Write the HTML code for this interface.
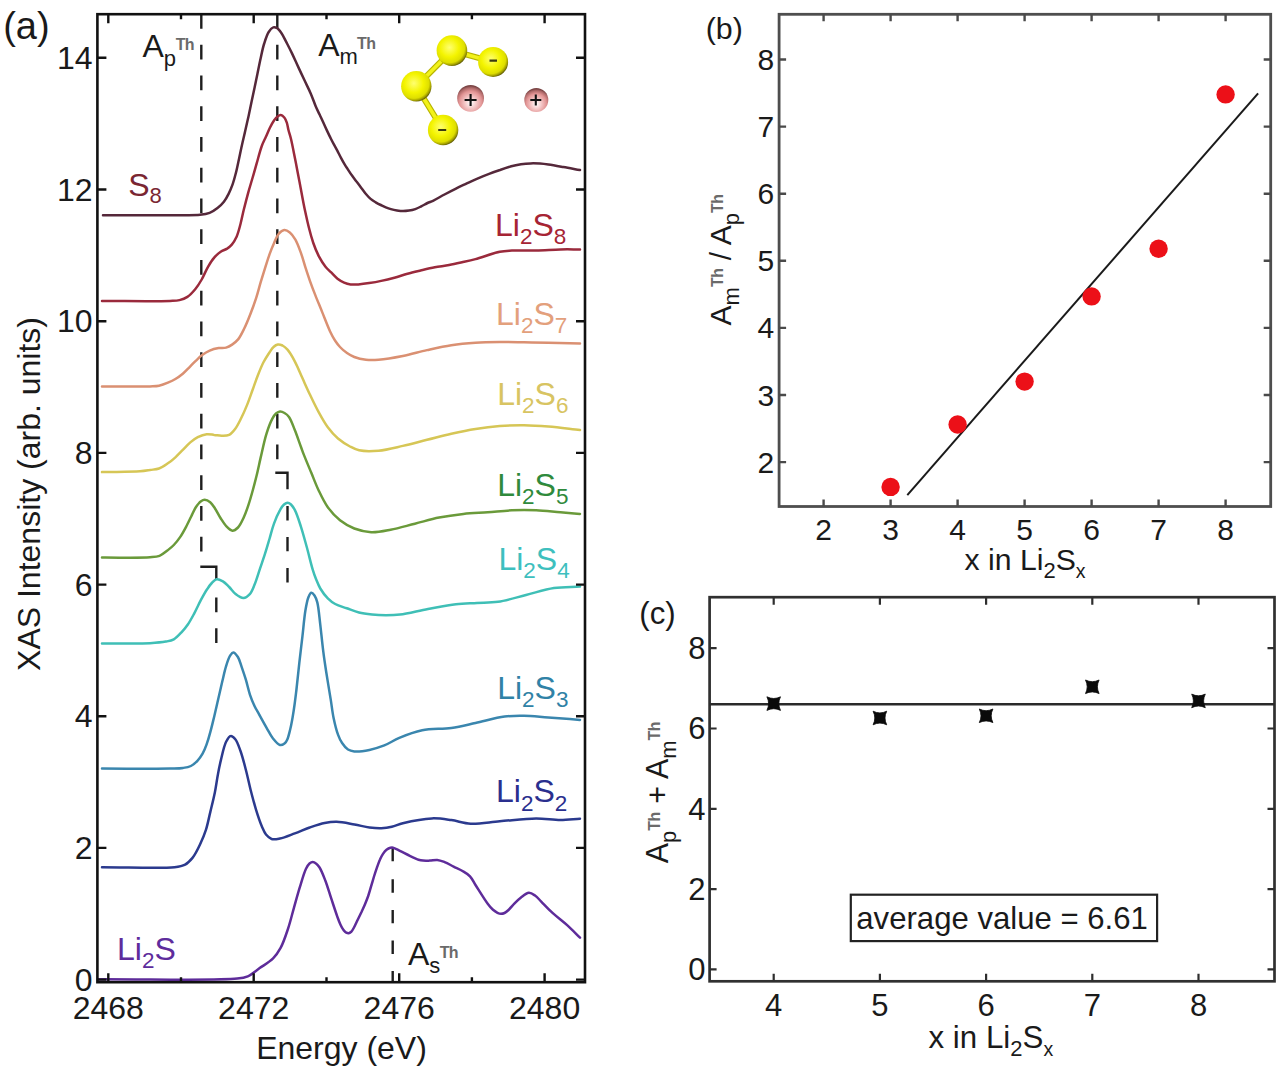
<!DOCTYPE html>
<html><head><meta charset="utf-8"><title>XAS figure</title>
<style>html,body{margin:0;padding:0;background:#fff;}body{width:1280px;height:1072px;overflow:hidden;font-family:"Liberation Sans",sans-serif;}svg{display:block;}</style>
</head><body>
<svg width="1280" height="1072" viewBox="0 0 1280 1072" font-family="Liberation Sans, sans-serif">
<rect width="1280" height="1072" fill="#fff"/>
<defs><radialGradient id="gy" cx="0.42" cy="0.4" r="0.62"><stop offset="0" stop-color="#ffff70"/><stop offset="0.5" stop-color="#f4f400"/><stop offset="0.8" stop-color="#dede00"/><stop offset="0.92" stop-color="#a09c00"/><stop offset="1" stop-color="#5e5a04"/></radialGradient><radialGradient id="gp" cx="0.5" cy="0.66" r="0.62"><stop offset="0" stop-color="#ffffff"/><stop offset="0.32" stop-color="#f6cccc"/><stop offset="0.68" stop-color="#e29494"/><stop offset="0.88" stop-color="#b06a6a"/><stop offset="1" stop-color="#7a4444"/></radialGradient><linearGradient id="gb" x1="0" y1="0" x2="1" y2="1"><stop offset="0" stop-color="#f8f860"/><stop offset="1" stop-color="#d8d800"/></linearGradient></defs>
<path d="M201.3,14 V552" stroke="#1e1e1e" stroke-width="2.4" fill="none" stroke-dasharray="14.8 15.95"/>
<path d="M200.3,566.8 H216.3 V580" stroke="#1e1e1e" stroke-width="2.4" fill="none" stroke-linejoin="miter"/>
<path d="M216.3,597.5 V612.3 M216.3,628.3 V643" stroke="#1e1e1e" stroke-width="2.4" fill="none"/>
<path d="M277.3,14 V459.5" stroke="#1e1e1e" stroke-width="2.4" fill="none" stroke-dasharray="14.8 15.95"/>
<path d="M275.3,472.8 H287.5 V489.3" stroke="#1e1e1e" stroke-width="2.4" fill="none"/>
<path d="M287.5,505.9 V520.5 M287.5,536.9 V551.3 M287.5,568.1 V582.6" stroke="#1e1e1e" stroke-width="2.4" fill="none"/>
<path d="M392.7,847.8 V861.3 M392.7,879.3 V892.7 M392.7,909.9 V923.3 M392.7,940.4 V953.9 M392.7,971 V981" stroke="#1e1e1e" stroke-width="2.4" fill="none"/>
<path d="M103.0,215.2 C128.7,215.2 162.6,215.4 180.0,215.2 C188.9,215.1 194.7,215.4 200.1,214.8 C203.9,214.4 206.7,214.0 209.6,212.9 C212.5,211.8 215.1,210.0 217.5,208.1 C219.9,206.3 222.1,204.1 223.9,201.8 C225.8,199.4 227.2,196.7 228.6,193.9 C230.1,190.9 231.4,187.7 232.6,184.4 C233.8,180.9 234.8,177.3 235.8,173.3 C237.0,168.7 238.0,163.4 239.1,158.5 C240.2,153.6 241.1,148.7 242.2,144.0 C243.2,139.4 244.3,135.1 245.3,130.5 C246.4,125.8 247.5,120.8 248.6,116.0 C249.6,111.2 250.6,106.3 251.6,101.5 C252.6,96.8 253.6,92.2 254.6,87.5 C255.6,82.8 256.5,78.2 257.5,73.5 C258.5,68.6 259.5,63.5 260.6,58.5 C261.7,53.5 262.7,48.1 264.2,43.5 C265.5,39.4 266.9,34.8 268.7,32.0 C270.0,29.9 271.7,27.9 273.2,27.4 C274.3,27.0 275.6,27.3 276.7,27.9 C278.3,28.7 279.8,30.8 281.2,32.8 C283.1,35.4 284.8,39.3 286.6,42.7 C288.4,46.2 290.2,49.6 292.0,53.4 C294.0,57.6 296.1,62.4 298.2,66.9 C300.3,71.4 302.4,75.8 304.5,80.3 C306.6,84.8 308.9,89.2 310.8,93.7 C312.7,98.1 314.3,103.0 315.9,106.8 C317.2,109.8 318.4,112.0 319.6,114.6 C320.8,117.2 322.1,119.9 323.3,122.6 C324.5,125.3 325.7,127.9 327.0,130.6 C328.2,133.2 329.6,136.0 330.8,138.5 C331.9,140.7 332.9,142.6 334.0,144.6 C335.1,146.6 336.2,148.5 337.3,150.6 C338.5,152.9 339.7,155.4 341.0,157.8 C342.2,160.1 343.5,162.5 344.8,164.6 C346.0,166.6 347.3,168.4 348.5,170.3 C349.7,172.2 350.9,174.0 352.2,175.8 C353.6,177.7 355.1,179.6 356.5,181.5 C357.9,183.3 359.2,185.1 360.6,187.0 C362.2,189.1 363.8,191.5 365.5,193.5 C367.1,195.4 368.8,197.4 370.6,198.9 C372.2,200.3 374.0,201.3 375.7,202.3 C377.4,203.3 379.1,204.2 380.8,205.0 C382.5,205.8 384.1,206.6 385.8,207.3 C387.5,208.0 389.1,208.6 390.9,209.1 C392.8,209.7 395.0,210.2 397.0,210.5 C399.0,210.8 401.1,211.1 403.1,211.1 C405.1,211.1 407.0,210.9 409.0,210.6 C411.1,210.3 413.3,209.8 415.3,209.1 C417.3,208.4 419.1,207.5 421.0,206.5 C423.1,205.5 425.4,204.0 427.5,203.0 C429.4,202.1 430.9,201.8 433.0,200.8 C436.2,199.3 440.7,196.5 444.5,194.5 C448.2,192.5 451.8,190.6 455.5,188.8 C459.2,186.9 463.0,185.2 466.8,183.4 C470.5,181.7 474.3,179.9 478.0,178.3 C481.7,176.7 485.4,175.2 489.1,173.8 C492.7,172.4 496.3,171.2 500.0,170.0 C503.7,168.7 507.7,167.3 511.3,166.3 C514.6,165.4 517.8,164.8 521.0,164.3 C524.2,163.8 527.4,163.5 530.6,163.4 C533.7,163.3 537.0,163.4 540.0,163.6 C542.9,163.8 545.2,164.1 548.4,164.6 C552.7,165.2 558.2,166.2 563.3,167.1 C568.7,168.0 574.4,169.1 580.0,170.1" stroke="#55283a" stroke-width="2.5" fill="none" stroke-linejoin="round" stroke-linecap="round"/>
<path d="M102.0,301.0 C124.7,301.0 157.7,301.4 170.0,300.9 C174.6,300.7 176.5,300.8 179.5,300.1 C182.3,299.4 184.9,298.5 187.4,296.9 C190.3,295.0 193.0,291.9 195.4,289.0 C197.8,286.1 199.7,283.0 201.7,279.5 C203.9,275.6 205.8,270.7 208.0,266.8 C210.0,263.3 212.1,259.9 214.4,257.3 C216.4,255.0 218.5,253.2 220.7,251.7 C222.7,250.3 225.2,249.8 227.1,248.6 C228.9,247.4 230.3,246.3 231.8,244.6 C233.6,242.5 235.2,239.7 236.6,236.7 C238.2,233.1 239.3,228.4 240.5,224.0 C241.7,219.5 242.5,214.9 243.7,210.0 C245.1,204.5 246.8,198.0 248.3,192.4 C249.7,187.3 251.1,182.8 252.5,178.0 C253.9,173.2 255.2,168.7 256.6,163.7 C258.2,158.2 259.9,151.1 261.7,146.2 C263.0,142.6 264.4,140.1 265.8,137.0 C267.2,133.9 268.5,130.6 269.9,127.7 C271.2,125.1 272.6,122.5 274.0,120.5 C275.2,118.9 276.3,117.4 277.6,116.4 C278.6,115.6 279.7,114.8 280.7,114.9 C281.9,115.0 283.3,116.3 284.3,117.5 C285.4,118.8 286.1,120.7 286.8,122.6 C287.6,124.8 287.8,127.3 288.4,129.8 C289.1,132.7 290.2,135.6 291.0,139.0 C292.0,143.2 293.0,148.3 294.0,153.4 C295.2,159.2 296.5,165.9 297.6,171.9 C298.7,177.5 299.7,182.8 300.7,188.3 C301.7,193.8 302.8,199.7 303.8,204.7 C304.6,208.8 305.4,212.2 306.2,216.0 C307.0,219.8 307.8,223.2 308.8,227.3 C310.0,232.1 311.6,238.0 313.3,243.0 C314.9,247.7 316.8,252.3 318.9,256.4 C320.9,260.2 323.3,263.9 325.5,266.7 C327.3,268.9 329.0,270.3 330.9,272.2 C333.0,274.3 335.2,276.9 337.5,278.7 C339.6,280.3 341.8,281.6 344.1,282.6 C346.2,283.5 348.3,284.1 350.6,284.4 C353.0,284.7 355.5,284.6 358.3,284.4 C361.6,284.2 365.5,283.7 369.2,283.1 C373.1,282.5 377.1,281.8 381.2,280.9 C385.5,280.0 390.0,278.9 394.4,277.7 C398.8,276.5 403.1,275.0 407.5,273.8 C411.9,272.6 416.1,271.6 420.6,270.5 C425.2,269.4 430.0,268.2 434.8,267.3 C439.5,266.4 444.5,266.0 449.1,265.1 C453.5,264.3 457.7,263.3 462.0,262.3 C466.5,261.3 470.4,260.5 475.5,259.1 C482.4,257.2 493.0,253.1 499.8,251.8 C504.5,250.9 507.2,250.9 511.9,250.6 C518.6,250.2 528.1,250.6 536.2,250.4 C544.3,250.2 552.8,249.6 560.4,249.4 C567.3,249.3 573.5,249.4 580.0,249.4" stroke="#9a2a3c" stroke-width="2.5" fill="none" stroke-linejoin="round" stroke-linecap="round"/>
<path d="M102.0,386.6 C118.0,386.5 140.3,386.8 150.0,386.4 C154.2,386.2 156.0,386.3 159.0,385.7 C162.0,385.1 165.1,383.9 167.9,382.7 C170.5,381.6 173.0,380.5 175.4,379.0 C177.9,377.5 180.4,375.7 182.8,373.7 C185.4,371.5 187.9,368.6 190.3,366.3 C192.4,364.2 194.3,362.2 196.3,360.3 C198.2,358.5 200.0,356.7 202.2,355.1 C204.5,353.4 207.0,351.8 209.7,350.6 C212.5,349.4 215.8,348.6 218.7,348.1 C221.3,347.7 223.8,348.2 226.1,347.6 C228.3,347.0 230.2,345.9 232.1,344.6 C234.2,343.2 236.3,341.6 238.1,339.4 C240.3,336.7 242.1,332.9 244.0,329.0 C246.3,324.4 248.6,318.7 250.6,313.5 C252.6,308.3 254.5,303.1 256.2,297.9 C257.9,292.7 259.2,287.3 260.7,282.2 C262.2,277.2 263.7,272.4 265.2,267.6 C266.7,263.0 268.1,258.4 269.6,254.2 C271.0,250.3 272.5,246.5 274.1,243.0 C275.5,239.8 276.7,236.2 278.6,234.0 C280.2,232.2 282.3,230.3 284.2,230.1 C286.0,229.9 288.1,231.1 289.8,232.4 C291.9,234.0 293.7,236.7 295.4,239.6 C297.5,243.3 299.3,248.5 301.0,253.1 C302.7,257.8 304.0,262.9 305.5,267.6 C307.0,272.2 308.4,276.5 310.0,281.1 C311.7,285.9 313.5,290.6 315.5,295.6 C317.6,301.0 320.0,306.6 322.3,312.4 C324.8,318.6 327.7,326.4 330.1,331.5 C331.8,335.1 333.2,337.8 335.0,340.5 C336.6,342.9 338.1,345.0 340.0,347.0 C342.0,349.2 344.5,351.3 347.0,353.0 C349.3,354.6 351.5,355.9 354.3,357.0 C357.7,358.3 362.0,359.3 366.0,359.8 C370.1,360.3 373.7,360.2 378.5,359.8 C385.3,359.3 394.7,357.7 402.8,356.1 C410.9,354.5 418.9,351.9 427.0,350.1 C435.1,348.3 443.2,346.4 451.3,345.2 C459.3,344.0 467.4,343.3 475.5,342.8 C483.6,342.3 491.7,342.2 499.8,342.1 C507.9,342.0 515.9,342.2 524.0,342.3 C532.1,342.4 539.7,342.6 548.3,342.8 C558.2,343.0 569.4,343.3 580.0,343.5" stroke="#da9072" stroke-width="2.5" fill="none" stroke-linejoin="round" stroke-linecap="round"/>
<path d="M102.0,472.1 C114.7,471.8 131.4,471.9 140.0,471.3 C144.4,471.0 146.8,470.5 150.0,470.0 C153.1,469.5 156.1,469.5 159.0,468.5 C162.1,467.4 165.1,465.2 167.9,463.3 C170.6,461.5 173.0,459.5 175.4,457.3 C177.9,455.0 180.3,452.4 182.8,449.9 C185.3,447.4 187.7,444.6 190.3,442.4 C192.7,440.4 195.1,438.6 197.8,437.2 C200.5,435.8 203.8,434.5 206.7,434.2 C209.3,433.9 211.7,434.6 214.2,434.9 C216.7,435.1 219.1,435.7 221.6,435.7 C224.1,435.7 226.9,435.9 229.1,434.9 C231.4,433.8 233.3,431.4 235.1,429.0 C237.3,426.1 239.1,422.3 241.0,418.5 C243.1,414.3 245.1,409.8 247.0,405.1 C249.1,399.9 251.1,393.8 253.0,388.7 C254.6,384.2 255.9,380.3 257.6,376.0 C259.4,371.4 261.4,366.2 263.6,362.0 C265.5,358.4 267.8,354.9 269.6,352.2 C271.0,350.2 272.0,348.3 273.5,347.0 C274.8,345.8 276.3,344.7 277.8,344.5 C279.3,344.3 281.0,344.8 282.5,345.5 C284.3,346.4 285.8,347.8 287.5,349.7 C290.0,352.5 292.6,357.2 294.9,361.6 C297.6,366.6 299.9,372.6 302.4,378.1 C304.9,383.6 307.2,388.9 309.9,394.5 C312.7,400.4 315.7,406.8 318.8,412.4 C321.7,417.7 324.5,422.8 327.8,427.3 C330.9,431.5 334.2,435.3 338.0,438.5 C341.7,441.6 346.2,444.5 350.0,446.5 C353.2,448.2 355.4,449.5 359.1,450.3 C364.3,451.4 371.7,451.3 378.5,450.7 C386.2,450.0 394.7,447.7 402.8,445.9 C410.9,444.1 418.9,441.8 427.0,439.8 C435.1,437.8 443.2,435.5 451.3,433.7 C459.4,431.9 467.4,430.2 475.5,428.9 C483.6,427.6 491.7,426.6 499.8,426.0 C507.9,425.4 515.9,425.1 524.0,425.2 C532.1,425.3 539.7,425.8 548.3,426.5 C558.2,427.3 569.4,428.9 580.0,430.1" stroke="#d6c656" stroke-width="2.5" fill="none" stroke-linejoin="round" stroke-linecap="round"/>
<path d="M102.0,557.6 C118.0,557.5 140.2,558.1 150.0,557.3 C154.4,556.9 156.6,556.9 159.5,555.8 C162.4,554.7 165.0,552.4 167.4,550.5 C169.7,548.7 171.8,547.1 173.8,545.0 C176.0,542.7 178.1,540.0 180.1,537.1 C182.4,533.8 184.6,529.6 186.5,526.0 C188.2,522.7 189.6,519.7 191.2,516.5 C192.8,513.3 194.2,509.7 196.0,507.0 C197.5,504.8 199.0,502.6 200.7,501.4 C202.0,500.5 203.3,499.8 204.7,499.8 C206.4,499.8 208.6,500.9 210.2,502.2 C212.1,503.7 213.4,506.1 215.0,508.5 C216.9,511.3 218.6,515.0 220.5,518.0 C222.3,520.8 224.0,523.8 226.1,526.0 C228.0,528.0 230.3,530.6 232.4,530.7 C234.3,530.8 236.3,529.2 238.0,527.5 C240.2,525.3 241.9,521.5 243.5,518.0 C245.3,514.2 246.8,509.9 248.3,505.4 C250.0,500.4 251.6,494.6 253.0,489.5 C254.3,484.8 255.3,480.8 256.5,476.0 C257.9,470.4 259.1,464.4 260.6,457.9 C262.4,450.3 264.3,440.4 266.6,433.3 C268.4,427.6 270.6,421.9 272.5,418.4 C273.7,416.2 274.6,414.7 276.0,413.5 C277.2,412.5 278.6,411.7 280.0,411.6 C281.4,411.5 283.1,412.2 284.5,413.0 C286.1,413.9 287.6,415.0 289.0,416.9 C291.2,419.9 293.0,425.6 294.9,430.3 C297.0,435.5 299.2,442.2 300.9,446.7 C302.1,449.9 302.6,451.7 303.9,454.9 C305.8,459.7 308.8,466.8 311.3,472.8 C313.8,478.8 316.0,484.9 318.8,490.7 C321.5,496.4 324.2,502.2 327.8,507.2 C331.3,512.1 335.5,516.7 340.0,520.3 C344.3,523.7 349.2,526.5 354.3,528.5 C359.6,530.5 365.3,531.9 371.2,532.2 C377.4,532.5 383.8,531.0 390.6,529.7 C398.3,528.3 406.8,525.7 414.9,523.7 C423.0,521.7 431.0,519.2 439.1,517.6 C447.2,516.0 455.3,514.9 463.4,514.0 C471.5,513.1 479.6,512.9 487.7,512.3 C495.8,511.7 503.8,510.6 511.9,510.3 C520.0,510.0 528.1,510.0 536.2,510.3 C544.3,510.6 552.8,511.7 560.4,512.3 C567.3,512.9 573.5,513.4 580.0,514.0" stroke="#6a9a3a" stroke-width="2.5" fill="none" stroke-linejoin="round" stroke-linecap="round"/>
<path d="M102.0,643.4 C118.0,643.3 138.3,643.8 150.0,643.2 C156.7,642.8 161.5,642.4 165.8,641.6 C168.9,641.0 171.3,640.7 173.8,639.3 C176.6,637.7 179.3,634.7 181.7,632.1 C184.0,629.6 186.0,627.1 188.0,624.2 C190.3,620.9 192.3,617.0 194.4,613.1 C196.6,609.0 198.5,604.5 200.7,600.4 C202.8,596.5 205.0,592.4 207.1,589.3 C208.7,586.8 210.1,584.7 211.8,583.0 C213.3,581.5 214.8,579.6 216.6,579.3 C218.5,579.0 220.9,580.3 222.9,581.4 C225.1,582.7 227.1,585.0 229.2,587.0 C231.4,589.2 233.2,592.2 235.6,594.1 C237.9,595.9 241.0,598.2 243.5,598.1 C245.8,598.0 248.0,596.0 249.8,594.1 C251.9,591.8 253.1,588.2 254.6,584.6 C256.5,580.0 258.2,574.0 260.0,568.7 C261.7,563.6 263.5,558.5 265.1,553.4 C266.7,548.4 268.1,543.5 269.6,538.5 C271.1,533.5 272.2,528.4 274.0,523.6 C275.7,518.9 278.0,513.6 280.0,510.1 C281.3,507.7 282.5,505.8 284.0,504.5 C285.1,503.6 286.3,502.7 287.5,502.7 C288.7,502.7 289.9,503.5 291.0,504.5 C292.4,505.8 293.6,507.6 294.9,510.1 C297.0,514.1 299.0,520.7 300.9,526.6 C303.0,533.1 304.9,540.4 306.9,547.5 C308.9,554.8 311.0,564.1 312.8,569.9 C313.9,573.6 314.8,576.0 316.0,579.0 C317.3,582.2 318.5,585.4 320.3,588.5 C322.3,591.9 325.1,595.6 327.8,598.3 C330.1,600.6 332.3,602.4 335.2,604.0 C338.5,605.8 342.9,606.9 346.8,608.3 C350.8,609.7 354.8,611.5 359.0,612.5 C363.2,613.6 367.6,614.1 372.0,614.6 C376.6,615.1 381.3,615.3 386.0,615.3 C390.7,615.3 394.6,615.3 400.0,614.6 C407.8,613.6 418.7,610.7 428.0,609.0 C437.3,607.3 447.3,605.2 456.0,604.2 C463.5,603.3 470.0,603.4 477.0,603.0 C484.0,602.6 490.6,602.9 498.0,601.8 C506.7,600.5 516.7,597.3 526.0,595.0 C535.3,592.7 544.8,589.4 554.0,588.0 C562.8,586.7 571.3,587.1 580.0,586.6" stroke="#3fbfb6" stroke-width="2.5" fill="none" stroke-linejoin="round" stroke-linecap="round"/>
<path d="M102.0,768.6 C124.7,768.6 156.2,769.0 170.0,768.6 C176.1,768.4 179.3,768.5 183.1,767.9 C186.1,767.5 188.5,767.2 190.9,766.0 C193.3,764.8 195.5,762.8 197.4,760.8 C199.4,758.7 201.1,756.2 202.6,753.6 C204.2,750.8 205.4,747.8 206.6,744.4 C208.0,740.5 209.3,736.0 210.5,731.4 C211.9,726.4 213.1,721.0 214.4,715.7 C215.7,710.2 217.0,704.4 218.3,698.7 C219.6,693.1 220.9,687.3 222.2,681.8 C223.5,676.5 224.6,670.8 226.1,666.1 C227.3,662.2 228.6,658.1 230.1,655.7 C231.1,654.2 232.1,652.4 233.3,652.4 C234.7,652.4 236.6,655.0 237.9,657.0 C239.6,659.6 240.5,663.8 241.8,667.4 C243.1,671.2 244.4,675.0 245.7,679.2 C247.2,684.0 248.4,690.1 250.0,694.8 C251.4,698.9 252.9,702.6 254.5,706.0 C255.9,709.0 257.4,711.2 259.1,714.3 C261.3,718.3 264.2,723.6 266.6,727.8 C268.8,731.6 270.6,735.5 273.0,738.5 C275.1,741.1 277.7,744.5 279.9,745.0 C281.5,745.4 283.3,744.4 284.5,743.5 C285.7,742.6 286.5,741.2 287.3,739.4 C288.5,736.8 289.4,732.5 290.3,729.0 C291.2,725.4 291.8,721.8 292.5,718.0 C293.2,713.9 293.9,709.5 294.5,705.0 C295.2,700.2 295.7,695.8 296.4,690.0 C297.3,682.1 298.4,671.2 299.4,662.1 C300.4,653.4 301.4,645.2 302.4,636.7 C303.4,628.0 304.2,617.8 305.4,610.5 C306.3,605.2 307.2,600.2 308.5,597.0 C309.3,595.1 310.2,592.8 311.3,592.7 C312.3,592.6 313.6,594.2 314.5,595.5 C315.7,597.2 316.5,599.4 317.3,602.4 C318.7,607.7 319.3,617.0 320.3,624.8 C321.3,633.3 322.2,643.2 323.3,651.6 C324.2,659.0 325.2,665.1 326.3,672.5 C327.6,680.9 329.4,691.3 330.7,699.4 C331.8,706.2 332.3,712.0 333.6,718.0 C334.8,723.8 336.4,730.4 338.1,734.9 C339.3,738.2 340.4,740.6 342.1,743.0 C343.7,745.4 345.8,748.1 348.0,749.5 C349.9,750.7 351.7,751.1 354.3,751.4 C358.2,751.8 364.4,750.9 369.4,749.9 C374.4,748.9 379.4,747.3 384.3,745.4 C389.4,743.4 393.7,740.2 399.3,737.9 C406.0,735.1 414.0,732.0 422.2,730.3 C431.2,728.5 442.1,729.2 451.3,727.9 C459.8,726.7 467.1,724.8 475.5,723.0 C484.8,721.0 495.8,717.6 504.6,716.5 C511.7,715.6 517.2,715.7 524.0,715.8 C531.6,715.9 539.7,716.9 548.3,717.5 C558.2,718.2 569.4,719.1 580.0,719.9" stroke="#3a86ae" stroke-width="2.5" fill="none" stroke-linejoin="round" stroke-linecap="round"/>
<path d="M102.0,867.2 C126.2,867.2 161.3,868.8 174.6,867.2 C179.7,866.6 182.1,866.2 185.1,864.6 C188.0,863.1 190.2,860.7 192.5,857.9 C195.3,854.4 197.8,849.2 200.0,844.5 C202.3,839.7 204.3,834.9 206.0,829.6 C207.8,823.9 208.9,817.7 210.4,811.6 C211.9,805.3 213.6,798.6 214.9,792.2 C216.1,786.1 216.9,779.6 218.0,774.0 C218.9,769.0 219.7,765.0 220.9,760.1 C222.3,754.4 223.9,746.1 226.1,741.8 C227.5,739.1 229.0,736.2 230.7,736.0 C232.1,735.8 233.9,737.5 235.3,739.2 C237.4,741.7 238.9,746.6 240.5,751.0 C242.4,756.4 244.1,762.9 245.7,769.2 C247.5,775.9 249.0,783.4 250.7,790.2 C252.4,796.8 254.1,803.4 256.0,809.6 C257.8,815.5 260.0,822.0 261.9,826.5 C263.3,829.7 264.3,832.4 266.0,834.5 C267.6,836.4 269.4,838.3 271.6,839.0 C274.0,839.8 276.8,839.1 279.9,838.5 C284.2,837.7 289.9,835.2 294.8,833.4 C299.8,831.6 304.7,829.2 309.7,827.5 C314.6,825.8 319.9,823.9 324.6,823.0 C328.8,822.2 332.2,821.7 336.6,821.8 C342.0,821.9 348.8,823.5 354.5,824.5 C359.7,825.4 364.7,826.9 369.4,827.5 C373.6,828.0 377.5,828.4 381.3,828.2 C384.9,828.0 388.3,827.5 391.8,826.7 C395.5,825.9 398.2,824.3 402.8,823.2 C410.1,821.4 423.2,818.7 431.9,818.4 C439.0,818.1 444.9,819.2 451.3,820.1 C457.8,821.0 463.6,823.3 470.7,823.7 C479.4,824.1 489.6,822.1 499.8,821.3 C511.3,820.4 525.3,818.5 536.2,818.4 C545.1,818.4 552.8,820.1 560.4,820.1 C567.3,820.1 573.5,819.2 580.0,818.8" stroke="#2b3a8e" stroke-width="2.5" fill="none" stroke-linejoin="round" stroke-linecap="round"/>
<path d="M98.0,979.2 C144.4,979.0 217.3,980.8 237.3,978.6 C242.8,978.0 244.3,977.8 247.8,976.3 C251.8,974.6 255.6,971.0 259.7,968.1 C264.1,965.0 269.5,962.0 273.1,958.4 C276.3,955.2 278.3,952.1 280.6,947.9 C283.5,942.6 285.9,935.1 288.1,928.5 C290.4,921.7 292.0,914.6 294.0,907.6 C296.0,900.6 297.9,893.4 300.0,886.7 C301.9,880.5 304.0,872.9 306.0,868.8 C307.2,866.4 308.2,864.6 309.5,863.5 C310.5,862.7 311.6,862.0 312.7,862.0 C313.8,862.0 315.0,862.7 316.0,863.5 C317.2,864.4 318.2,865.5 319.4,867.3 C321.4,870.3 323.5,875.9 325.4,880.7 C327.5,886.2 329.3,892.7 331.3,898.7 C333.3,904.7 335.6,911.8 337.3,916.6 C338.5,919.9 339.4,922.4 340.5,924.8 C341.4,926.8 342.4,928.6 343.5,930.0 C344.4,931.1 345.2,932.1 346.2,932.6 C347.0,933.0 347.9,933.3 348.7,933.2 C349.6,933.1 350.4,932.5 351.2,931.8 C352.2,930.8 353.1,929.2 354.0,927.5 C355.2,925.4 356.4,922.5 357.6,920.0 C358.9,917.4 360.2,914.7 361.5,912.0 C362.7,909.3 364.0,906.7 365.1,904.0 C366.2,901.3 367.2,898.8 368.2,896.0 C369.2,893.0 370.1,889.9 371.0,886.7 C372.0,883.4 373.0,879.8 374.0,876.5 C375.0,873.3 376.0,870.2 377.0,867.3 C378.0,864.6 378.9,861.9 380.0,859.5 C380.9,857.4 381.9,855.6 383.0,853.9 C384.0,852.4 385.2,850.8 386.5,849.8 C387.7,848.9 389.2,848.1 390.4,847.8 C391.3,847.6 392.0,847.5 393.0,847.7 C394.8,848.1 397.4,849.7 399.9,850.9 C403.0,852.4 406.8,854.5 410.3,856.1 C413.7,857.6 417.3,859.6 420.7,860.3 C423.8,860.9 426.8,860.7 429.7,860.6 C432.3,860.5 434.7,859.7 437.2,859.9 C439.7,860.1 442.1,861.1 444.6,862.1 C447.5,863.2 450.6,865.1 453.6,866.6 C456.6,868.1 459.7,869.3 462.5,871.0 C465.2,872.6 467.9,874.1 470.0,876.3 C472.3,878.7 473.3,881.6 475.5,885.0 C478.8,890.1 484.3,899.2 487.7,903.7 C489.7,906.4 491.2,908.2 493.0,909.8 C494.5,911.1 496.0,912.1 497.5,912.8 C498.7,913.4 499.8,913.8 501.0,913.8 C502.2,913.8 503.4,913.5 504.5,913.0 C505.9,912.4 507.1,911.3 508.5,910.0 C510.3,908.3 512.3,905.8 514.3,903.7 C516.4,901.6 518.6,899.3 521.0,897.5 C523.4,895.7 526.4,893.0 528.9,892.8 C531.0,892.7 533.1,894.2 535.0,895.5 C537.1,896.9 538.7,899.0 541.0,901.3 C544.3,904.6 548.8,909.5 553.1,913.4 C557.7,917.6 563.1,921.4 567.7,925.6 C572.1,929.6 575.9,933.7 580.0,937.7" stroke="#5e2c9a" stroke-width="2.5" fill="none" stroke-linejoin="round" stroke-linecap="round"/>
<rect x="97.4" y="14.2" width="487.6" height="968.0" fill="none" stroke="#111" stroke-width="2.6"/>
<path d="M108.3,982.2 v-9.0 M108.3,14.2 v9.0 M181.0,982.2 v-5.0 M181.0,14.2 v5.0 M253.7,982.2 v-9.0 M253.7,14.2 v9.0 M326.5,982.2 v-5.0 M326.5,14.2 v5.0 M399.2,982.2 v-9.0 M399.2,14.2 v9.0 M471.9,982.2 v-5.0 M471.9,14.2 v5.0 M544.6,982.2 v-9.0 M544.6,14.2 v9.0 M97.4,979.6 h9 M585.0,979.6 h-9 M97.4,847.9 h9 M585.0,847.9 h-9 M97.4,716.2 h9 M585.0,716.2 h-9 M97.4,584.6 h9 M585.0,584.6 h-9 M97.4,452.9 h9 M585.0,452.9 h-9 M97.4,321.2 h9 M585.0,321.2 h-9 M97.4,189.5 h9 M585.0,189.5 h-9 M97.4,57.8 h9 M585.0,57.8 h-9" stroke="#111" stroke-width="2.4"/>
<text x="92.6" y="990.8" font-size="32" text-anchor="end" fill="#1a1a1a">0</text>
<text x="92.6" y="859.1" font-size="32" text-anchor="end" fill="#1a1a1a">2</text>
<text x="92.6" y="727.4" font-size="32" text-anchor="end" fill="#1a1a1a">4</text>
<text x="92.6" y="595.8" font-size="32" text-anchor="end" fill="#1a1a1a">6</text>
<text x="92.6" y="464.1" font-size="32" text-anchor="end" fill="#1a1a1a">8</text>
<text x="92.6" y="332.4" font-size="32" text-anchor="end" fill="#1a1a1a">10</text>
<text x="92.6" y="200.7" font-size="32" text-anchor="end" fill="#1a1a1a">12</text>
<text x="92.6" y="69.0" font-size="32" text-anchor="end" fill="#1a1a1a">14</text>
<text x="108.3" y="1018.9" font-size="32" text-anchor="middle" fill="#1a1a1a">2468</text>
<text x="253.7" y="1018.9" font-size="32" text-anchor="middle" fill="#1a1a1a">2472</text>
<text x="399.2" y="1018.9" font-size="32" text-anchor="middle" fill="#1a1a1a">2476</text>
<text x="544.6" y="1018.9" font-size="32" text-anchor="middle" fill="#1a1a1a">2480</text>
<text x="341.5" y="1058.8" font-size="32" text-anchor="middle" fill="#1a1a1a">Energy (eV)</text>
<text transform="translate(39.6,494) rotate(-90)" font-size="32" text-anchor="middle" fill="#1a1a1a">XAS Intensity (arb. units)</text>
<text x="3.2" y="39.1" font-size="38" fill="#1a1a1a">(a)</text>
<text x="128.2" y="196.3" font-size="32" fill="#7a2632">S<tspan font-size="22" dy="6.8">8</tspan></text>
<text x="495.0" y="235.6" font-size="32" fill="#a62434">Li<tspan font-size="22.5" dy="8.2">2</tspan><tspan dy="-8.2">S</tspan><tspan font-size="22.5" dy="8.2">8</tspan></text>
<text x="496.0" y="324.6" font-size="32" fill="#e3a07c">Li<tspan font-size="22.5" dy="8.2">2</tspan><tspan dy="-8.2">S</tspan><tspan font-size="22.5" dy="8.2">7</tspan></text>
<text x="497.2" y="404.6" font-size="32" fill="#d8c462">Li<tspan font-size="22.5" dy="8.2">2</tspan><tspan dy="-8.2">S</tspan><tspan font-size="22.5" dy="8.2">6</tspan></text>
<text x="497.2" y="495.8" font-size="32" fill="#2f8a3c">Li<tspan font-size="22.5" dy="8.2">2</tspan><tspan dy="-8.2">S</tspan><tspan font-size="22.5" dy="8.2">5</tspan></text>
<text x="498.4" y="569.8" font-size="32" fill="#3ebfbe">Li<tspan font-size="22.5" dy="8.2">2</tspan><tspan dy="-8.2">S</tspan><tspan font-size="22.5" dy="8.2">4</tspan></text>
<text x="497.2" y="698.6" font-size="32" fill="#3082a6">Li<tspan font-size="22.5" dy="8.2">2</tspan><tspan dy="-8.2">S</tspan><tspan font-size="22.5" dy="8.2">3</tspan></text>
<text x="496.0" y="802.4" font-size="32" fill="#2a2f8e">Li<tspan font-size="22.5" dy="8.2">2</tspan><tspan dy="-8.2">S</tspan><tspan font-size="22.5" dy="8.2">2</tspan></text>
<text x="117.0" y="960.0" font-size="32" fill="#5e2c9c">Li<tspan font-size="22.5" dy="8.2">2</tspan><tspan dy="-8.2">S</tspan></text>
<text x="142.4" y="57.3" font-size="32" fill="#1a1a1a">A<tspan font-size="22" dy="8.4">p</tspan></text>
<text x="175.7" y="49.8" font-size="16" font-weight="bold" fill="#6a6a6a" letter-spacing="-0.6">Th</text>
<text x="318.2" y="55.6" font-size="32" fill="#1a1a1a">A<tspan font-size="22" dy="8.4">m</tspan></text>
<text x="357.0" y="49.4" font-size="16" font-weight="bold" fill="#6a6a6a" letter-spacing="-0.6">Th</text>
<text x="408.0" y="964.6" font-size="32" fill="#1a1a1a">A<tspan font-size="22" dy="8.4">s</tspan></text>
<text x="439.7" y="958.4" font-size="16" font-weight="bold" fill="#6a6a6a" letter-spacing="-0.6">Th</text>
<g stroke-linecap="round">
<path d="M451.9,50.6 L416.3,86.3 M451.9,50.6 L493.1,61.9 M416.3,86.3 L443.1,130" stroke="#b8b400" stroke-width="6"/>
<path d="M451.9,50.6 L416.3,86.3 M451.9,50.6 L493.1,61.9 M416.3,86.3 L443.1,130" stroke="#f2f21a" stroke-width="3.6"/>
</g>
<circle cx="451.9" cy="50.6" r="15.3" fill="url(#gy)"/>
<circle cx="493.1" cy="61.9" r="15.0" fill="url(#gy)"/>
<circle cx="416.3" cy="86.3" r="15.2" fill="url(#gy)"/>
<circle cx="443.1" cy="130.0" r="15.2" fill="url(#gy)"/>
<path d="M489.5,60.6 h7.5 M438.2,130 h8" stroke="#3a3a10" stroke-width="2.2"/>
<circle cx="470.6" cy="98.3" r="13.4" fill="url(#gp)"/>
<circle cx="536.3" cy="100.0" r="12.0" fill="url(#gp)"/>
<path d="M464.6,100 h12 M470.6,94 v12 M530.3,100 h11 M535.8,94.5 v11" stroke="#111" stroke-width="2.1"/>
<rect x="779.1" y="14.3" width="491.6" height="492.2" fill="none" stroke="#4e4e4e" stroke-width="2.8"/>
<path d="M823.6,506.5 v-7 M823.6,14.3 v7 M779.1,462.1 h7 M1270.7,462.1 h-7 M890.6,506.5 v-7 M890.6,14.3 v7 M779.1,395.0 h7 M1270.7,395.0 h-7 M957.6,506.5 v-7 M957.6,14.3 v7 M779.1,327.9 h7 M1270.7,327.9 h-7 M1024.6,506.5 v-7 M1024.6,14.3 v7 M779.1,260.8 h7 M1270.7,260.8 h-7 M1091.6,506.5 v-7 M1091.6,14.3 v7 M779.1,193.7 h7 M1270.7,193.7 h-7 M1158.6,506.5 v-7 M1158.6,14.3 v7 M779.1,126.6 h7 M1270.7,126.6 h-7 M1225.6,506.5 v-7 M1225.6,14.3 v7 M779.1,59.5 h7 M1270.7,59.5 h-7" stroke="#4a4a4a" stroke-width="2.4"/>
<text x="823.6" y="540.3" font-size="30" text-anchor="middle" fill="#1a1a1a">2</text>
<text x="774.2" y="472.6" font-size="30" text-anchor="end" fill="#1a1a1a">2</text>
<text x="890.6" y="540.3" font-size="30" text-anchor="middle" fill="#1a1a1a">3</text>
<text x="774.2" y="405.5" font-size="30" text-anchor="end" fill="#1a1a1a">3</text>
<text x="957.6" y="540.3" font-size="30" text-anchor="middle" fill="#1a1a1a">4</text>
<text x="774.2" y="338.4" font-size="30" text-anchor="end" fill="#1a1a1a">4</text>
<text x="1024.6" y="540.3" font-size="30" text-anchor="middle" fill="#1a1a1a">5</text>
<text x="774.2" y="271.3" font-size="30" text-anchor="end" fill="#1a1a1a">5</text>
<text x="1091.6" y="540.3" font-size="30" text-anchor="middle" fill="#1a1a1a">6</text>
<text x="774.2" y="204.2" font-size="30" text-anchor="end" fill="#1a1a1a">6</text>
<text x="1158.6" y="540.3" font-size="30" text-anchor="middle" fill="#1a1a1a">7</text>
<text x="774.2" y="137.1" font-size="30" text-anchor="end" fill="#1a1a1a">7</text>
<text x="1225.6" y="540.3" font-size="30" text-anchor="middle" fill="#1a1a1a">8</text>
<text x="774.2" y="70.0" font-size="30" text-anchor="end" fill="#1a1a1a">8</text>
<text x="705.7" y="39.2" font-size="30.4" fill="#1a1a1a">(b)</text>
<path d="M907.3,495.1 L1258.1,93.3" stroke="#1a1a1a" stroke-width="2"/>
<circle cx="890.6" cy="486.9" r="9.2" fill="#ec1018"/>
<circle cx="957.6" cy="424.5" r="9.2" fill="#ec1018"/>
<circle cx="1024.6" cy="381.6" r="9.2" fill="#ec1018"/>
<circle cx="1091.6" cy="296.4" r="9.2" fill="#ec1018"/>
<circle cx="1158.6" cy="248.7" r="9.2" fill="#ec1018"/>
<circle cx="1225.6" cy="94.4" r="9.2" fill="#ec1018"/>
<text x="964.6" y="570" font-size="30.2" fill="#1a1a1a">x in Li<tspan font-size="22" dy="8">2</tspan><tspan dy="-8">S</tspan><tspan font-size="19.5" dy="8">x</tspan></text>
<g transform="translate(730.8,325.4) rotate(-90)"><text x="0" y="0" font-size="30" fill="#1a1a1a">A<tspan font-size="22" dy="8">m</tspan><tspan font-size="16" dy="-15.5" font-weight="bold" fill="#6a6a6a" letter-spacing="-0.5">Th</tspan><tspan dy="7.5"> / A</tspan><tspan font-size="22" dy="8">p</tspan><tspan font-size="16" dy="-15.5" font-weight="bold" fill="#6a6a6a" letter-spacing="-0.5">Th</tspan></text></g>
<rect x="709.6" y="597.2" width="564.9" height="384.1" fill="none" stroke="#303030" stroke-width="2.7"/>
<path d="M773.7,981.3 v-7.5 M773.7,597.2 v7.5 M879.9,981.3 v-7.5 M879.9,597.2 v7.5 M986.1,981.3 v-7.5 M986.1,597.2 v7.5 M1092.3,981.3 v-7.5 M1092.3,597.2 v7.5 M1198.5,981.3 v-7.5 M1198.5,597.2 v7.5 M709.6,969.4 h7 M1274.5,969.4 h-7 M709.6,889.1 h7 M1274.5,889.1 h-7 M709.6,808.8 h7 M1274.5,808.8 h-7 M709.6,728.5 h7 M1274.5,728.5 h-7 M709.6,648.2 h7 M1274.5,648.2 h-7" stroke="#2e2e2e" stroke-width="2.2"/>
<text x="773.7" y="1015.8" font-size="31" text-anchor="middle" fill="#1a1a1a">4</text>
<text x="879.9" y="1015.8" font-size="31" text-anchor="middle" fill="#1a1a1a">5</text>
<text x="986.1" y="1015.8" font-size="31" text-anchor="middle" fill="#1a1a1a">6</text>
<text x="1092.3" y="1015.8" font-size="31" text-anchor="middle" fill="#1a1a1a">7</text>
<text x="1198.5" y="1015.8" font-size="31" text-anchor="middle" fill="#1a1a1a">8</text>
<text x="705.5" y="980.2" font-size="31" text-anchor="end" fill="#1a1a1a">0</text>
<text x="705.5" y="899.9" font-size="31" text-anchor="end" fill="#1a1a1a">2</text>
<text x="705.5" y="819.6" font-size="31" text-anchor="end" fill="#1a1a1a">4</text>
<text x="705.5" y="739.3" font-size="31" text-anchor="end" fill="#1a1a1a">6</text>
<text x="705.5" y="659.0" font-size="31" text-anchor="end" fill="#1a1a1a">8</text>
<text x="639.3" y="623.5" font-size="31.2" fill="#1a1a1a">(c)</text>
<path d="M709.6,704.3 H1274.5" stroke="#2a2a2a" stroke-width="2.4"/>
<path transform="translate(773.7,703.6)" d="M-6.8,-6.8 Q0,-3.4 6.8,-6.8 Q3.4,0 6.8,6.8 Q0,3.4 -6.8,6.8 Q-3.4,0 -6.8,-6.8Z" fill="#0a0a0a" stroke="#0a0a0a" stroke-width="0.8" stroke-linejoin="round"/>
<path transform="translate(879.9,718.0)" d="M-6.8,-6.8 Q0,-3.4 6.8,-6.8 Q3.4,0 6.8,6.8 Q0,3.4 -6.8,6.8 Q-3.4,0 -6.8,-6.8Z" fill="#0a0a0a" stroke="#0a0a0a" stroke-width="0.8" stroke-linejoin="round"/>
<path transform="translate(986.1,715.8)" d="M-6.8,-6.8 Q0,-3.4 6.8,-6.8 Q3.4,0 6.8,6.8 Q0,3.4 -6.8,6.8 Q-3.4,0 -6.8,-6.8Z" fill="#0a0a0a" stroke="#0a0a0a" stroke-width="0.8" stroke-linejoin="round"/>
<path transform="translate(1092.3,686.8)" d="M-6.8,-6.8 Q0,-3.4 6.8,-6.8 Q3.4,0 6.8,6.8 Q0,3.4 -6.8,6.8 Q-3.4,0 -6.8,-6.8Z" fill="#0a0a0a" stroke="#0a0a0a" stroke-width="0.8" stroke-linejoin="round"/>
<path transform="translate(1198.5,700.9)" d="M-6.8,-6.8 Q0,-3.4 6.8,-6.8 Q3.4,0 6.8,6.8 Q0,3.4 -6.8,6.8 Q-3.4,0 -6.8,-6.8Z" fill="#0a0a0a" stroke="#0a0a0a" stroke-width="0.8" stroke-linejoin="round"/>
<rect x="850.8" y="894.7" width="306.3" height="46.4" fill="#fff" stroke="#222" stroke-width="2.2"/>
<text x="856.3" y="928.5" font-size="31.2" fill="#1a1a1a" textLength="291.5" lengthAdjust="spacingAndGlyphs">average value = 6.61</text>
<text x="928.5" y="1048.1" font-size="31.3" fill="#1a1a1a">x in Li<tspan font-size="22" dy="7.5">2</tspan><tspan dy="-7.5">S</tspan><tspan font-size="19.5" dy="7.5">x</tspan></text>
<g transform="translate(667.6,863.3) rotate(-90)"><text x="0" y="0" font-size="30.5" fill="#1a1a1a">A<tspan font-size="22" dy="8.2">p</tspan><tspan font-size="16" dy="-15.4" font-weight="bold" fill="#6a6a6a" letter-spacing="-0.5">Th</tspan><tspan dy="7.2"> + A</tspan><tspan font-size="22" dy="8.2">m</tspan><tspan font-size="16" dy="-15.4" font-weight="bold" fill="#6a6a6a" letter-spacing="-0.5">Th</tspan></text></g>
</svg>
</body></html>
